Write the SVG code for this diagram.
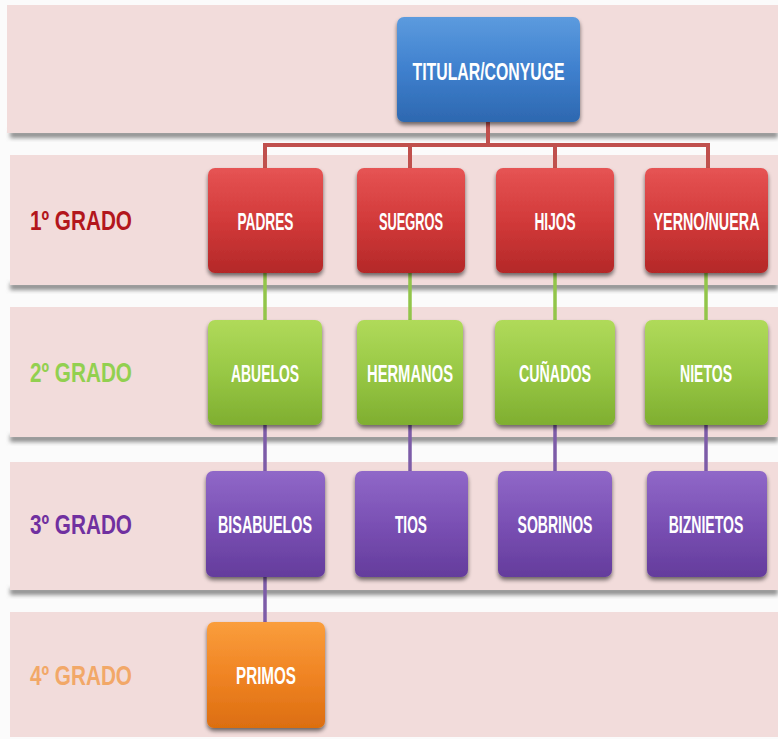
<svg xmlns="http://www.w3.org/2000/svg" width="778" height="739" viewBox="0 0 778 739">
<defs>
<style>
.band{fill:#F2DCDB;}
.bshadow{fill:#8f8f8f;filter:url(#blur);}
.node text{font-family:"Liberation Sans",Arial,sans-serif;font-weight:bold;font-size:24px;fill:#ffffff;text-anchor:middle;}
.lbl{font-family:"Liberation Sans",Arial,sans-serif;font-weight:bold;font-size:28px;}
.box{filter:url(#shadow);}
.cr{stroke:#C0504D;stroke-width:4;fill:none;}
.cg{stroke:#92C54A;stroke-width:3.5;fill:none;}
.cp{stroke:#7D5CA8;stroke-width:3.5;fill:none;}
</style>
<filter id="blur" x="-5%" y="-50%" width="110%" height="200%"><feGaussianBlur stdDeviation="2"/></filter>
<filter id="shadow" x="-10%" y="-10%" width="120%" height="130%">
<feGaussianBlur in="SourceAlpha" stdDeviation="2"/>
<feOffset dx="0" dy="3" result="b"/>
<feComponentTransfer><feFuncA type="linear" slope="0.55"/></feComponentTransfer>
<feMerge><feMergeNode/><feMergeNode in="SourceGraphic"/></feMerge>
</filter>
<linearGradient id="gBlue" x1="0" y1="0" x2="0" y2="1"><stop offset="0" stop-color="#5C9BDE"/><stop offset="0.5" stop-color="#3F80CE"/><stop offset="1" stop-color="#2D68B0"/></linearGradient>
<linearGradient id="gRed" x1="0" y1="0" x2="0" y2="1"><stop offset="0" stop-color="#E65454"/><stop offset="0.5" stop-color="#D23A3A"/><stop offset="1" stop-color="#B42828"/></linearGradient>
<linearGradient id="gGreen" x1="0" y1="0" x2="0" y2="1"><stop offset="0" stop-color="#B0DA5A"/><stop offset="0.5" stop-color="#98C845"/><stop offset="1" stop-color="#7FAE30"/></linearGradient>
<linearGradient id="gPurple" x1="0" y1="0" x2="0" y2="1"><stop offset="0" stop-color="#9068C8"/><stop offset="0.5" stop-color="#7A50B4"/><stop offset="1" stop-color="#643C9C"/></linearGradient>
<linearGradient id="gOrange" x1="0" y1="0" x2="0" y2="1"><stop offset="0" stop-color="#FA9E3C"/><stop offset="0.5" stop-color="#F08424"/><stop offset="1" stop-color="#DC6E10"/></linearGradient>
</defs>
<rect width="778" height="739" fill="#FBFBFB"/>
<g id="bands">
<rect class="bshadow" x="10" y="131" width="768" height="7"/>
<rect class="band" x="7" y="5" width="771" height="128"/>
<rect class="bshadow" x="10" y="283" width="768" height="7"/>
<rect class="band" x="10" y="155" width="768" height="130"/>
<rect class="bshadow" x="10" y="435" width="768" height="7"/>
<rect class="band" x="10" y="307" width="768" height="130"/>
<rect class="bshadow" x="10" y="588" width="768" height="7"/>
<rect class="band" x="10" y="462" width="768" height="128"/>
<rect class="band" x="10" y="612" width="768" height="125"/>
</g>
<g id="labels">
<text class="lbl" x="30" y="230" textLength="102" lengthAdjust="spacingAndGlyphs" fill="#B3161C">1º GRADO</text>
<text class="lbl" x="30" y="382" textLength="102" lengthAdjust="spacingAndGlyphs" fill="#92D050">2º GRADO</text>
<text class="lbl" x="30" y="534" textLength="102" lengthAdjust="spacingAndGlyphs" fill="#7030A0">3º GRADO</text>
<text class="lbl" x="30" y="685" textLength="102" lengthAdjust="spacingAndGlyphs" fill="#F2A868">4º GRADO</text>
</g>
<g id="connectors">
<path class="cr" d="M488 122 V145 M265 168 V145 H708 V168 M410 145 V168 M555 145 V168"/>
<path class="cg" d="M265 273 V320 M410 273 V320 M555 273 V320 M706 273 V320"/>
<path class="cp" d="M265 425 V471 M410 425 V471 M555 425 V471 M706 425 V471 M265 577 V622"/>
</g>
<g id="titular" class="node"><rect class="box" x="397" y="17" width="183" height="105" rx="7" fill="url(#gBlue)"/><text x="488.5" y="80" font-size="28" textLength="152" lengthAdjust="spacingAndGlyphs">TITULAR/CONYUGE</text></g>
<g id="padres" class="node"><rect class="box" x="208" y="168" width="115" height="105" rx="7" fill="url(#gRed)"/><text x="265.5" y="230" textLength="56" lengthAdjust="spacingAndGlyphs">PADRES</text></g>
<g id="suegros" class="node"><rect class="box" x="357" y="168" width="108" height="105" rx="7" fill="url(#gRed)"/><text x="411" y="230" textLength="64" lengthAdjust="spacingAndGlyphs">SUEGROS</text></g>
<g id="hijos" class="node"><rect class="box" x="496" y="168" width="118" height="105" rx="7" fill="url(#gRed)"/><text x="555" y="230" textLength="41" lengthAdjust="spacingAndGlyphs">HIJOS</text></g>
<g id="yerno" class="node"><rect class="box" x="645" y="168" width="123" height="105" rx="7" fill="url(#gRed)"/><text transform="translate(706.5 230) scale(0.598 1)" x="0" y="0">YERNO/NUERA</text></g>
<g id="abuelos" class="node"><rect class="box" x="208" y="320" width="114" height="105" rx="7" fill="url(#gGreen)"/><text x="265" y="382" textLength="68" lengthAdjust="spacingAndGlyphs">ABUELOS</text></g>
<g id="hermanos" class="node"><rect class="box" x="357" y="320" width="106" height="105" rx="7" fill="url(#gGreen)"/><text x="410" y="382" textLength="86" lengthAdjust="spacingAndGlyphs">HERMANOS</text></g>
<g id="cunados" class="node"><rect class="box" x="495" y="320" width="120" height="105" rx="7" fill="url(#gGreen)"/><text x="555" y="382" textLength="72" lengthAdjust="spacingAndGlyphs">CUÑADOS</text></g>
<g id="nietos" class="node"><rect class="box" x="645" y="320" width="123" height="105" rx="7" fill="url(#gGreen)"/><text x="706" y="382" textLength="52" lengthAdjust="spacingAndGlyphs">NIETOS</text></g>
<g id="bisabuelos" class="node"><rect class="box" x="206" y="471" width="119" height="106" rx="7" fill="url(#gPurple)"/><text x="265" y="533" textLength="94" lengthAdjust="spacingAndGlyphs">BISABUELOS</text></g>
<g id="tios" class="node"><rect class="box" x="355" y="471" width="113" height="106" rx="7" fill="url(#gPurple)"/><text x="411" y="533" textLength="32" lengthAdjust="spacingAndGlyphs">TIOS</text></g>
<g id="sobrinos" class="node"><rect class="box" x="498" y="471" width="114" height="106" rx="7" fill="url(#gPurple)"/><text x="555" y="533" textLength="75" lengthAdjust="spacingAndGlyphs">SOBRINOS</text></g>
<g id="biznietos" class="node"><rect class="box" x="647" y="471" width="120" height="106" rx="7" fill="url(#gPurple)"/><text transform="translate(706 533) scale(0.586 1)" x="0" y="0">BIZNIETOS</text></g>
<g id="primos" class="node"><rect class="box" x="207" y="622" width="118" height="106" rx="7" fill="url(#gOrange)"/><text x="266" y="684" textLength="60" lengthAdjust="spacingAndGlyphs">PRIMOS</text></g>
</svg>
